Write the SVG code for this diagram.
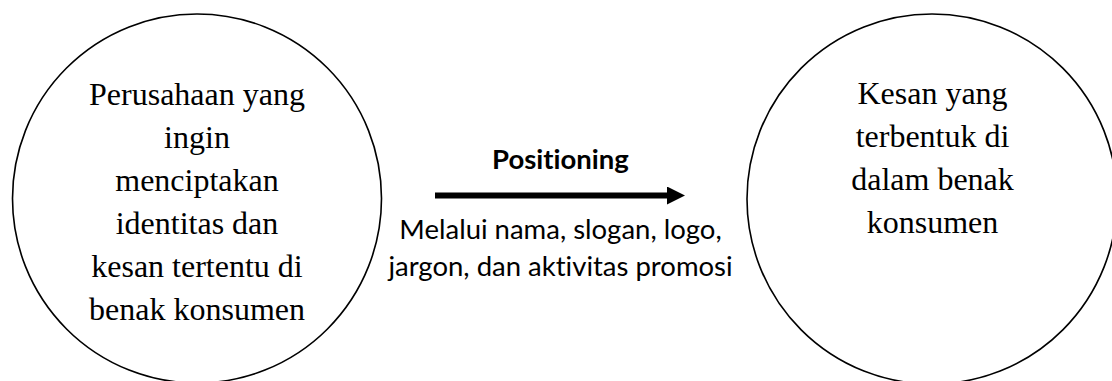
<svg xmlns="http://www.w3.org/2000/svg" width="1112" height="381" viewBox="0 0 1112 381">
  <style>
    .node-shape { fill: #ffffff; stroke: #000000; stroke-width: 1.6; }
    .serif { font-family: "Liberation Serif", "Times New Roman", serif; font-size: 32px; fill: #000000; text-anchor: middle; }
    .sans { font-family: Lato, "Liberation Sans", sans-serif; font-size: 27.5px; fill: #000000; text-anchor: middle; font-variant-ligatures: none; }
    .bold { font-weight: bold; }
    .edge { stroke: #000000; stroke-width: 6; fill: none; }
  </style>
  <defs>
    <marker id="arrowhead" markerUnits="userSpaceOnUse" markerWidth="20" markerHeight="20" refX="0" refY="9" orient="auto">
      <path d="M0,0 L18,9 L0,18 Z" fill="#000000"/>
    </marker>
  </defs>

  <rect width="1112" height="381" fill="#ffffff"/>

  <g id="node-perusahaan">
    <circle class="node-shape" cx="197" cy="198.5" r="184.5"/>
    <text class="serif" x="197" y="105">Perusahaan yang</text>
    <text class="serif" x="197" y="148">ingin</text>
    <text class="serif" x="197" y="191">menciptakan</text>
    <text class="serif" x="197" y="234">identitas dan</text>
    <text class="serif" x="197" y="277">kesan tertentu di</text>
    <text class="serif" x="197" y="320">benak konsumen</text>
  </g>

  <g id="node-kesan">
    <circle class="node-shape" cx="932" cy="199" r="185"/>
    <text class="serif" x="932.5" y="104">Kesan yang</text>
    <text class="serif" x="932.5" y="147">terbentuk di</text>
    <text class="serif" x="932.5" y="190">dalam benak</text>
    <text class="serif" x="932.5" y="233">konsumen</text>
  </g>

  <g id="connectors">
    <line class="edge" x1="435" y1="195.5" x2="667" y2="195.5" marker-end="url(#arrowhead)"/>
    <text class="sans bold" x="560.5" y="169">Positioning</text>
    <text class="sans" x="560.5" y="239">Melalui nama, slogan, logo,</text>
    <text class="sans" x="560.5" y="276">jargon, dan aktivitas promosi</text>
  </g>
</svg>
